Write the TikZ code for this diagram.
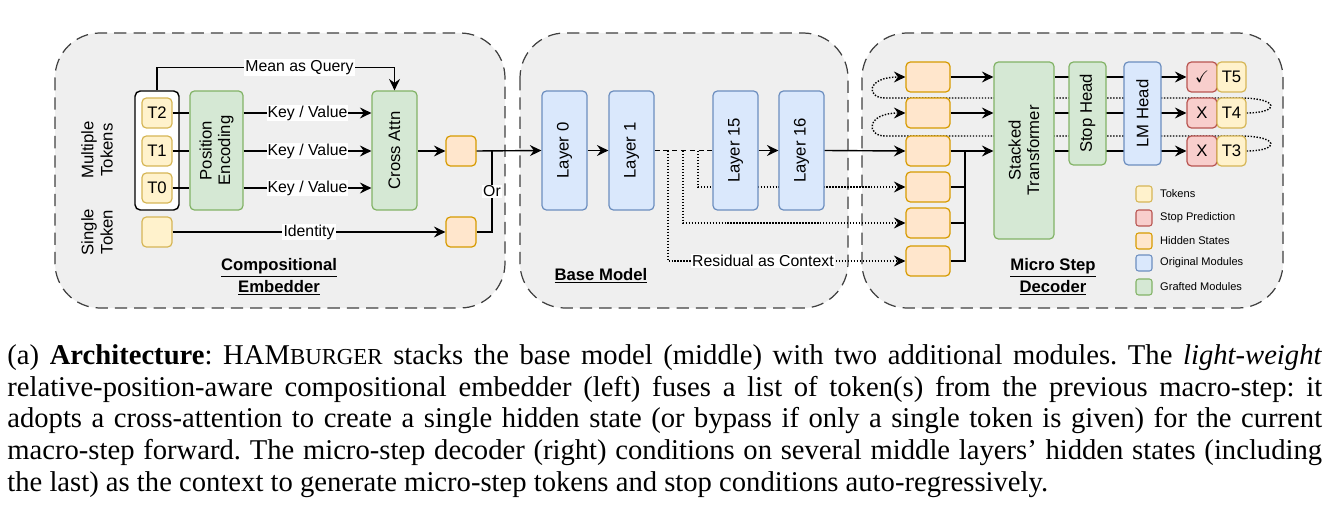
\documentclass[tikz,border=0pt]{standalone}
\usepackage{fontspec}
\usepackage{amssymb}
\setmainfont{Liberation Serif}
\newfontfamily\dsans{Liberation Sans}
\usetikzlibrary{arrows.meta}
\definecolor{tokfill}{HTML}{FFF2CC}\definecolor{tokline}{HTML}{D6B656}
\definecolor{hidfill}{HTML}{FFE6CC}\definecolor{hidline}{HTML}{D79B00}
\definecolor{stpfill}{HTML}{F8CECC}\definecolor{stpline}{HTML}{B85450}
\definecolor{orgfill}{HTML}{DAE8FC}\definecolor{orgline}{HTML}{6C8EBF}
\definecolor{grffill}{HTML}{D5E8D4}\definecolor{grfline}{HTML}{82B366}
\definecolor{panelgray}{HTML}{EFEFEF}
\pgfdeclarelayer{panels}
\pgfdeclarelayer{wires}
\pgfsetlayers{panels,wires,main}
\tikzset{
  box/.style={rounded corners=2.5pt, line width=0.7pt, inner sep=0pt, font=\dsans\fontsize{9.5}{10.5}\selectfont},
  tok/.style={box, fill=tokfill, draw=tokline, minimum width=0.6cm, minimum height=0.6cm},
  hid/.style={box, fill=hidfill, draw=hidline, minimum width=0.88cm, minimum height=0.6cm},
  stp/.style={box, fill=stpfill, draw=stpline, minimum width=0.6cm, minimum height=0.6cm},
  orig/.style={box, fill=orgfill, draw=orgline, rotate=90},
  graft/.style={box, fill=grffill, draw=grfline, rotate=90, align=center},
  panel/.style={draw=black!75, fill=panelgray, line width=0.7pt, dash pattern=on 7pt off 4pt, rounded corners=0.9cm},
  arr/.style={-{Stealth[length=2.3mm,width=2.2mm,inset=0.8mm]}, line width=0.8pt},
  wire/.style={line width=0.8pt},
  dots/.style={line width=0.7pt, dash pattern=on 0.8pt off 0.9pt},
  lab/.style={fill=white, inner sep=0.6pt, font=\dsans\fontsize{9}{10}\selectfont},
  side/.style={rotate=90, align=center, font=\dsans\fontsize{9.5}{11}\selectfont},
  title/.style={align=center, font=\dsans\bfseries\fontsize{9.5}{12.5}\selectfont},
  key/.style={rounded corners=1.5pt, line width=0.6pt, minimum size=0.32cm, inner sep=0pt},
  keytxt/.style={anchor=west, font=\dsans\fontsize{6.3}{7}\selectfont}
}
\begin{document}
\begin{tikzpicture}[x=0.02cm, y=-0.02cm]
\useasboundingbox (0,0) rectangle (1333,517);
% Panels
\begin{pgfonlayer}{panels}
  \draw[panel] (55,33) rectangle (505,308);
  \draw[panel] (520,33) rectangle (848,308);
  \draw[panel] (862,33) rectangle (1283,308);
\end{pgfonlayer}
% Compositional embedder
\node[side] (multi) at (97,150) {Multiple\\Tokens};
\node[side] (single) at (97,232) {Single\\Token};
\node[draw, rounded corners=3pt, line width=0.8pt, fill=white, minimum width=0.88cm, minimum height=2.38cm] (grp) at (157,150.5) {};
\node[tok] (t2) at (157,113) {T2};
\node[tok] (t1) at (157,151) {T1};
\node[tok] (t0) at (157,188) {T0};
\node[tok] (tsingle) at (157,232) {};
\node[graft, minimum width=2.38cm, minimum height=1.06cm] (pe) at (216.5,150.5) {Position\\Encoding};
\node[graft, minimum width=2.38cm, minimum height=0.9cm] (ca) at (394.5,150.5) {Cross Attn};
\node[hid, minimum width=0.6cm] (hq) at (461,151) {};
\node[hid, minimum width=0.6cm] (hs) at (461,232) {};
\coordinate (orj) at (492,151);
\draw[arr] (grp.north) -- ++(0,-23) -| node[lab, pos=0.3] {Mean as Query} (ca.east);
\foreach \t in {t2,t1,t0}{
  \draw[wire] (\t.east) -- (\t.east -| pe.north);
  \draw[arr] (pe.south |- \t) -- node[lab] {Key / Value} (ca.north |- \t);
}
\draw[arr] (ca.south |- hq) -- (hq.west);
\draw[arr] (tsingle.east) -- node[lab] {Identity} (hs.west);
\draw[wire] (hs.east) -| node[lab, pos=0.75] {Or} (orj);
\node[title] (cetitle) at (279,277) {\underline{Compositional}\\\underline{Embedder}};
% Base model
\node[orig, minimum width=2.38cm, minimum height=0.9cm] (l0) at (564.5,150.5) {Layer 0};
\node[orig, minimum width=2.38cm, minimum height=0.9cm] (l1) at (631.5,150.5) {Layer 1};
\node[orig, minimum width=2.38cm, minimum height=0.9cm] (l15) at (735.5,150.5) {Layer 15};
\node[orig, minimum width=2.38cm, minimum height=0.9cm] (l16) at (801.5,150.5) {Layer 16};
\draw[arr] (hq.east) -- (l0.north);
\draw[arr] (l0.south) -- (l1.north);
\draw[arr] (l15.south) -- (l16.north);
\draw[wire, dash pattern=on 3pt off 2pt] (l1.south) -- (l15.north);
\node[title] (bmtitle) at (601,276) {\underline{Base Model}};
% Micro step decoder
\foreach \n/\y in {d1/77,d2/113,d3/151,d4/187,d5/223,d6/261}
  \node[hid] (\n) at (928,\y) {};
\node[graft, minimum width=3.54cm, minimum height=1.2cm] (st) at (1024,150.5) {Stacked\\Transformer};
\node[graft, minimum width=2.06cm, minimum height=0.74cm] (sh) at (1087.5,113.5) {Stop Head};
\node[orig, minimum width=2.06cm, minimum height=0.74cm] (lm) at (1142.5,113.5) {LM Head};
\node[stp] (p5) at (1202,77) {$\checkmark$};
\node[stp] (p4) at (1202,113) {X};
\node[stp] (p3) at (1202,151) {X};
\node[tok, minimum width=0.58cm] (t5) at (1231.5,77) {T5};
\node[tok, minimum width=0.58cm] (t4) at (1231.5,113) {T4};
\node[tok, minimum width=0.58cm] (t3) at (1231.5,151) {T3};
\coordinate (bus) at (965,151);
\coordinate (b4) at (698,151);
\coordinate (b5) at (683,151);
\coordinate (b6) at (668,151);
\begin{pgfonlayer}{wires}
  \draw[dots, arr] (b4) |- (d4.west);
  \draw[dots, arr] (b5) |- (d5.west);
  \draw[dots, arr] (b6) |- node[lab, pos=0.7] {Residual as Context} (d6.west);
  \foreach \p in {p5,p4,p3}
    \draw[arr] (st.south |- \p) -- (\p.west);
  \draw[dots, arr] (t4.east) .. controls (1280,113) and (1280,98) .. (1240,98)
    -- (885,98) .. controls (866,98) and (866,77) .. (d1.west);
  \draw[dots, arr] (t3.east) .. controls (1280,151) and (1280,136) .. (1240,136)
    -- (885,136) .. controls (866,136) and (866,113) .. (d2.west);
\end{pgfonlayer}
\draw[arr] (l16.south) -- (d3.west);
\foreach \n in {d1,d2,d3}
  \draw[arr] (\n.east) -- (st.north |- \n);
\foreach \n in {d4,d5,d6}
  \draw[wire] (\n.east) -| (bus);
\node[title] (mstitle) at (1053,277) {\underline{Micro Step}\\\underline{Decoder}};
% Legend
\node[key, fill=tokfill, draw=tokline] (ktok) at (1144,194) {};
\node[key, fill=stpfill, draw=stpline] (kstp) at (1144,218) {};
\node[key, fill=hidfill, draw=hidline] (khid) at (1144,241) {};
\node[key, fill=orgfill, draw=orgline] (korg) at (1144,263) {};
\node[key, fill=grffill, draw=grfline] (kgrf) at (1144,287) {};
\node[keytxt] at (1154,194) {Tokens};
\node[keytxt] at (1154,218) {Stop Prediction};
\node[keytxt] at (1154,241) {Hidden States};
\node[keytxt] at (1154,263) {Original Modules};
\node[keytxt] at (1154,287) {Grafted Modules};
% Caption
\node[anchor=north west, inner sep=0pt, text width=26.3cm, align=justify,
  font=\fontsize{16.3}{18.1}\selectfont\frenchspacing] (caption) at (7,344)
  {(a) \textbf{Architecture}: HAM{\fontsize{13}{14}\selectfont BURGER} stacks the base model (middle) with two additional modules. The \textit{light-weight}\linebreak
  relative-position-aware compositional embedder (left) fuses a list of token(s) from the previous macro-step: it\linebreak
  adopts a cross-attention to create a single hidden state (or bypass if only a single token is given) for the current\linebreak
  macro-step forward. The micro-step decoder (right) conditions on several middle layers' hidden states (including\linebreak
  the last) as the context to generate micro-step tokens and stop conditions auto-regressively.\par};
\end{tikzpicture}
\end{document}
